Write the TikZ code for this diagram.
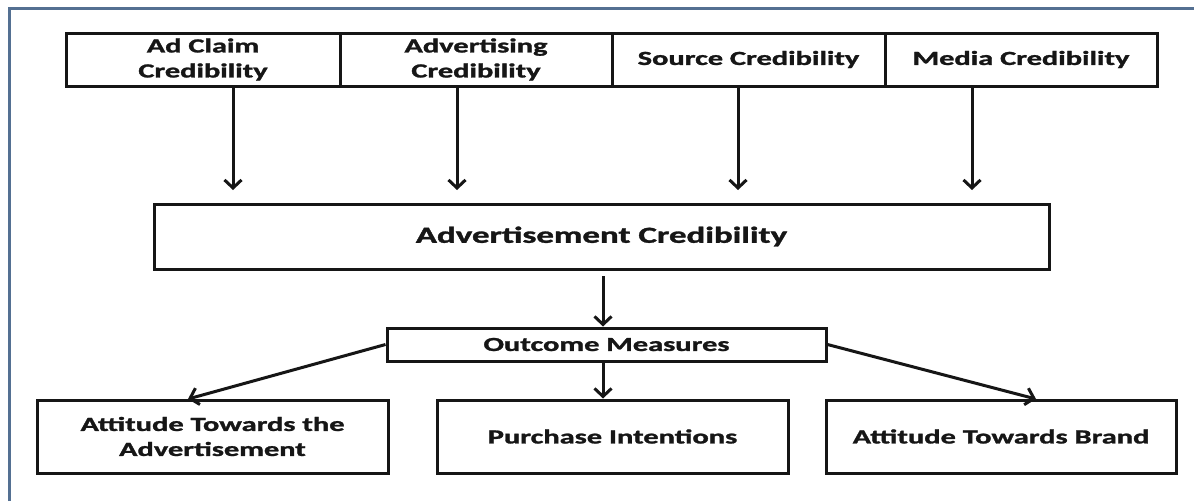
\documentclass[tikz,border=0pt]{standalone}
\usepackage{fontspec}
\setmainfont{Carlito}[BoldFeatures={FakeBold=1.2}]
\usepackage{graphicx}
\usetikzlibrary{arrows.meta}
% wide lettering used throughout the chart
\newcommand{\wtxt}[1]{\scalebox{1.52}[1]{#1}}
\definecolor{framec}{RGB}{84,112,146}
\definecolor{ink}{RGB}{22,22,22}
\begin{document}
\begin{tikzpicture}[x=1pt,y=-1pt,
  box/.style={draw=ink, line width=3pt, inner sep=0pt, align=center,
    text=ink, font=\fontsize{20}{25}\selectfont\bfseries},
  arr/.style={draw=ink, line width=3pt, -{Straight Barb[length=8pt,width=17pt]}}]
\useasboundingbox (0,0) rectangle (1194,501);
\fill[white] (0,0) rectangle (1194,501);
% outer frame
\draw[framec, line width=3pt] (9,501) -- (9,8) -- (1194,8);

% source factors
\node[box, minimum width=274pt, minimum height=53pt] (ac) at (203,59.5) {\wtxt{Ad Claim}\\\wtxt{Credibility}};
\node[box, minimum width=272pt, minimum height=53pt] (ad) at (476,59.5) {\wtxt{Advertising}\\\wtxt{Credibility}};
\node[box, minimum width=273pt, minimum height=53pt] (sc) at (748.5,59.5) {\wtxt{Source Credibility}};
\node[box, minimum width=272pt, minimum height=53pt] (mc) at (1021,59.5) {\wtxt{Media Credibility}};

% central construct
\node[box, minimum width=895pt, minimum height=65pt, font=\fontsize{23}{28}\selectfont\bfseries] (acred) at (601.5,236.5) {\wtxt{Advertisement Credibility}};
\node[box, minimum width=439pt, minimum height=33pt] (om) at (606.5,344.5) {\wtxt{Outcome Measures}};

% outcomes
\node[box, minimum width=351pt, minimum height=73pt] (ata) at (212.5,436.5) {\wtxt{Attitude Towards the}\\\wtxt{Advertisement}};
\node[box, minimum width=351pt, minimum height=73pt] (pi) at (612.5,436.5) {\wtxt{Purchase Intentions}};
\node[box, minimum width=350pt, minimum height=73pt] (atb) at (1001,436.5) {\wtxt{Attitude Towards Brand}};

% arrow end points
\coordinate (t1) at (233,190);
\coordinate (t2) at (457,190);
\coordinate (t3) at (738,190);
\coordinate (t4) at (972,190);
\coordinate (m1) at (603,276);
\coordinate (la) at (188,399);
\coordinate (ra) at (1036,399);

\draw[arr] (ac.south -| t1) -- (t1);
\draw[arr] (ad.south -| t2) -- (t2);
\draw[arr] (sc.south -| t3) -- (t3);
\draw[arr] (mc.south -| t4) -- (t4);
\draw[arr] (m1) -- (m1 |- om.north);
\draw[arr] (om.south -| m1) -- (pi.north -| m1);
\draw[arr] (om.west) -- (la);
\draw[arr] (om.east) -- (ra);
\end{tikzpicture}
\end{document}
